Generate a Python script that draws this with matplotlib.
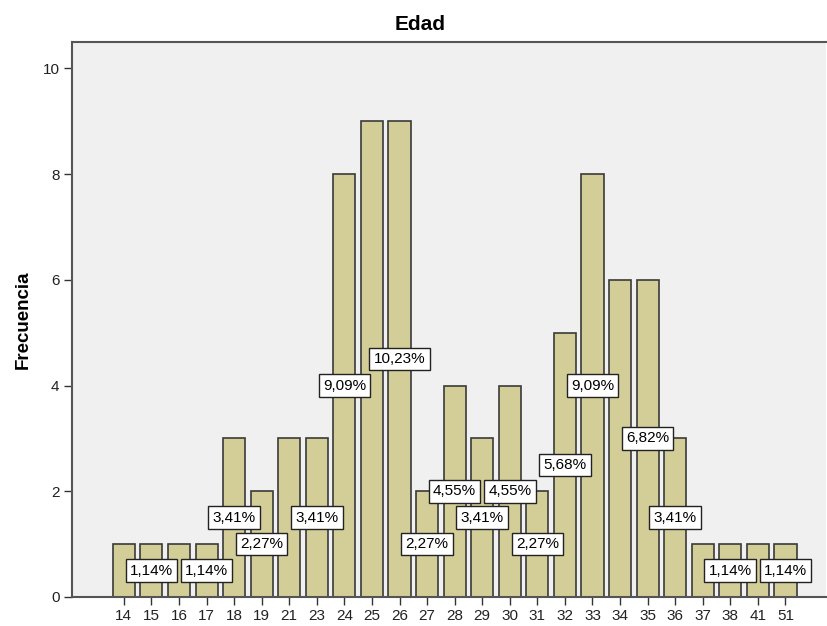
import numpy as np
import matplotlib
matplotlib.use('Agg')
import matplotlib.pyplot as plt

# Age categories and frequencies
edades = ['14', '15', '16', '17', '18', '19', '21', '23', '24', '25', '26', '27', '28',
          '29', '30', '31', '32', '33', '34', '35', '36', '37', '38', '41', '51']
frecuencia = [1, 1, 1, 1, 3, 2, 3, 3, 8, 9, 9, 2, 4, 3, 4, 2, 5, 8, 6, 6, 3, 1, 1, 1, 1]
# bars whose percentage label is visible (SPSS drops overlapping ones)
con_etiqueta = ['15', '17', '18', '19', '23', '24', '26', '27', '28', '29', '30', '31',
                '32', '33', '35', '36', '38', '51']
yticks = [0, 2, 4, 6, 8, 10]

plt.rcParams['font.family'] = ['Liberation Sans', 'DejaVu Sans']

fig = plt.figure(figsize=(8.27, 6.26), dpi=100)
ax = fig.add_axes([72 / 827, 1 - 597 / 626, 754 / 827, 555 / 626])
ax.set_facecolor('#f0f0f0')

x = np.arange(len(edades))
total = sum(frecuencia)
ax.bar(x, frecuencia, width=0.8, color='#d3ce97', edgecolor='#3a3a3a', linewidth=1.2, zorder=2)

# percentage labels at half bar height
for xi, lab, f in zip(x, edades, frecuencia):
    if lab in con_etiqueta:
        pct = f'{100 * f / total:.2f}%'.replace('.', ',')
        ax.text(xi, f / 2, pct, ha='center', va='center', fontsize=11, zorder=3,
                bbox=dict(boxstyle='square,pad=0.28', fc='white', ec='#222222', lw=1))

ax.set_xlim(-1.88, 25.47)
ax.set_ylim(0, 10.5)
ax.set_xticks(x)
ax.set_xticklabels(edades, fontsize=11)
ax.set_yticks(yticks)
ax.set_yticklabels([str(t) for t in yticks], fontsize=11)
ax.tick_params(axis='both', direction='out', length=6, width=1, color='#333333',
               labelcolor='#222222', pad=3)

for side in ['left', 'bottom', 'top']:
    ax.spines[side].set_color('#555555')
    ax.spines[side].set_linewidth(1.5)
ax.spines['right'].set_visible(False)

ax.set_ylabel('Frecuencia', fontsize=13.5, fontweight='bold')
ax.yaxis.set_label_coords(-40 / 754, 0.5)
fig.text(420 / 827, 1 - 25 / 626, 'Edad', ha='center', va='center', fontsize=15,
         fontweight='bold')

fig.savefig('out.png', dpi=100)
